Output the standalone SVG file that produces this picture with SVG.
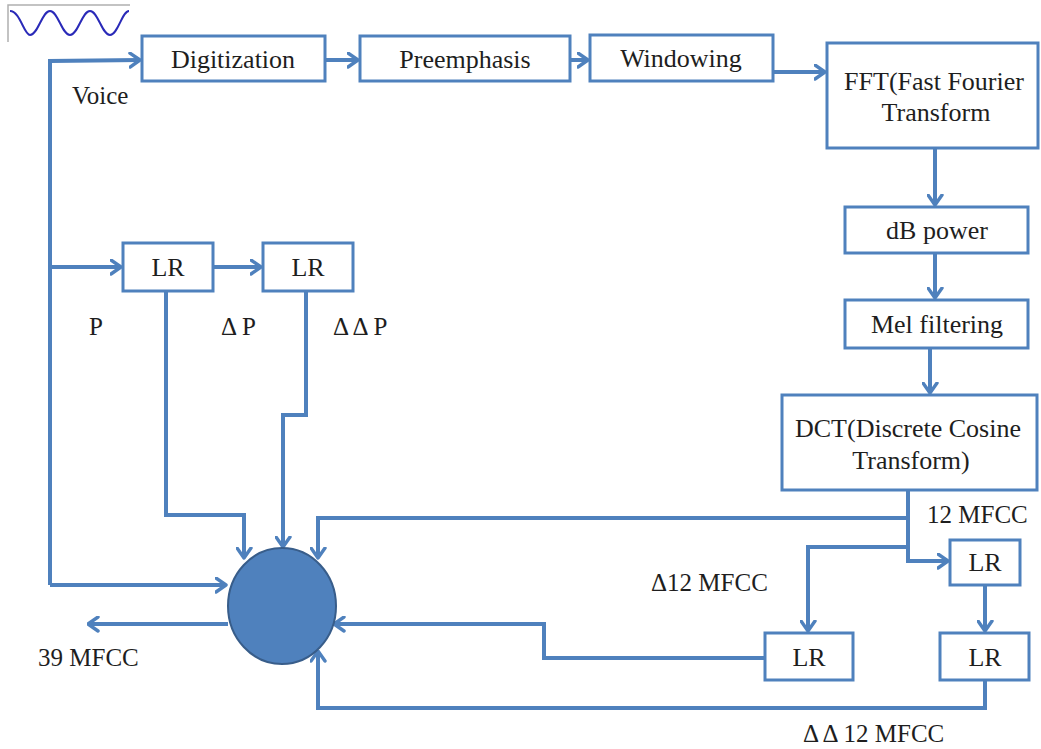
<svg xmlns="http://www.w3.org/2000/svg" width="1041" height="749" viewBox="0 0 1041 749">
  <defs>
    <marker id="arr" viewBox="0 0 13 17" refX="11.5" refY="8.5" markerWidth="13" markerHeight="17" markerUnits="userSpaceOnUse" orient="auto">
      <path d="M1.5,1.5 L11.5,8.5 L1.5,15.5" fill="none" stroke="#4f81bd" stroke-width="3.4" stroke-linecap="round" stroke-linejoin="round"/>
    </marker>
    <style>
      .box { fill: #ffffff; stroke: #4f81bd; stroke-width: 3; }
      .ln { fill: none; stroke: #4f81bd; stroke-width: 4; stroke-linejoin: miter; }
      .arr { marker-end: url(#arr); }
      .t { font-family: "Liberation Serif", "DejaVu Serif", serif; font-size: 26px; fill: #1e1e1e; text-anchor: middle; }
      .lbl { font-family: "Liberation Serif", "DejaVu Serif", serif; font-size: 25px; fill: #1e1e1e; }
    </style>
  </defs>
  <rect width="1041" height="749" fill="#ffffff"/>

  <!-- input waveform -->
  <g id="waveform">
    <path d="M8,42 L8,5 L130,5" fill="none" stroke="#b0b0b0" stroke-width="1.5"/>
    <path d="M10,11 C20,11 24,35 30,35 C38,35 42,11 50,11 C58,11 62,35 70,35 C78,35 82,11 90,11 C98,11 102,35 110,35 C118,35 122,11 129,11" fill="none" stroke="#2a2ab8" stroke-width="2"/>
  </g>

  <!-- connectors -->
  <g id="connectors">
    <path class="ln arr" d="M50,585 L50,61 L140,60"/>
    <path class="ln arr" d="M50,585 L226,585"/>
    <path class="ln arr" d="M50,267 L121,267"/>
    <path class="ln arr" d="M325,60 L358,60"/>
    <path class="ln arr" d="M570,60 L588,60"/>
    <path class="ln arr" d="M773,72 L825,72"/>
    <path class="ln arr" d="M935,148 L935,205"/>
    <path class="ln arr" d="M935,253 L935,298"/>
    <path class="ln arr" d="M930,348 L930,393"/>
    <path class="ln arr" d="M908,490 L908,561 L948,561"/>
    <path class="ln arr" d="M908,518 L318,518 L318,558"/>
    <path class="ln arr" d="M908,547 L808,547 L808,631"/>
    <path class="ln arr" d="M985,585 L985,631"/>
    <path class="ln arr" d="M765,658 L544,658 L544,624 L334,624"/>
    <path class="ln arr" d="M985,680 L985,708 L318,708 L318,651"/>
    <path class="ln arr" d="M213,267 L261,267"/>
    <path class="ln arr" d="M166,291 L166,515 L244,515 L244,558"/>
    <path class="ln arr" d="M306,291 L306,415 L283,415 L283,547"/>
    <path class="ln arr" d="M228,624 L88,624"/>
  </g>

  <g id="digitization">
    <rect class="box" x="142" y="36" width="183" height="45"/>
    <text class="t" x="233" y="68">Digitization</text>
  </g>
  <g id="preemphasis">
    <rect class="box" x="360" y="36" width="210" height="45"/>
    <text class="t" x="465" y="68">Preemphasis</text>
  </g>
  <g id="windowing">
    <rect class="box" x="590" y="35" width="183" height="46"/>
    <text class="t" x="681" y="67">Windowing</text>
  </g>
  <g id="fft">
    <rect class="box" x="827" y="43" width="211" height="105"/>
    <text class="t" x="934" y="90">FFT(Fast Fourier</text>
    <text class="t" x="936" y="121">Transform</text>
  </g>
  <g id="db-power">
    <rect class="box" x="845" y="207" width="183" height="46"/>
    <text class="t" x="937" y="239">dB power</text>
  </g>
  <g id="mel-filtering">
    <rect class="box" x="845" y="300" width="183" height="48"/>
    <text class="t" x="937" y="333">Mel filtering</text>
  </g>
  <g id="dct">
    <rect class="box" x="782" y="395" width="255" height="95"/>
    <text class="t" x="908" y="437">DCT(Discrete Cosine</text>
    <text class="t" x="911" y="469">Transform)</text>
  </g>
  <g id="lr-p1">
    <rect class="box" x="123" y="243" width="90" height="48"/>
    <text class="t" x="168" y="276">LR</text>
  </g>
  <g id="lr-p2">
    <rect class="box" x="263" y="243" width="90" height="48"/>
    <text class="t" x="308" y="276">LR</text>
  </g>
  <g id="lr-m1">
    <rect class="box" x="950" y="540" width="70" height="45"/>
    <text class="t" x="985" y="571">LR</text>
  </g>
  <g id="lr-m2">
    <rect class="box" x="765" y="633" width="88" height="47"/>
    <text class="t" x="809" y="666">LR</text>
  </g>
  <g id="lr-m3">
    <rect class="box" x="940" y="633" width="89" height="47"/>
    <text class="t" x="985" y="666">LR</text>
  </g>
  <g id="combiner">
    <ellipse cx="282" cy="606" rx="54" ry="58" fill="#4f81bd" stroke="#385d8a" stroke-width="2"/>
  </g>

  <g id="labels">
    <text class="lbl" x="72" y="104">Voice</text>
    <text class="lbl" x="89" y="335">P</text>
    <text class="lbl" x="221" y="335">Δ P</text>
    <text class="lbl" x="333" y="335">Δ Δ P</text>
    <text class="lbl" x="927" y="523">12 MFCC</text>
    <text class="lbl" x="651" y="591">Δ12 MFCC</text>
    <text class="lbl" x="803" y="742">Δ Δ 12 MFCC</text>
    <text class="lbl" x="38" y="666">39 MFCC</text>
  </g>
</svg>
